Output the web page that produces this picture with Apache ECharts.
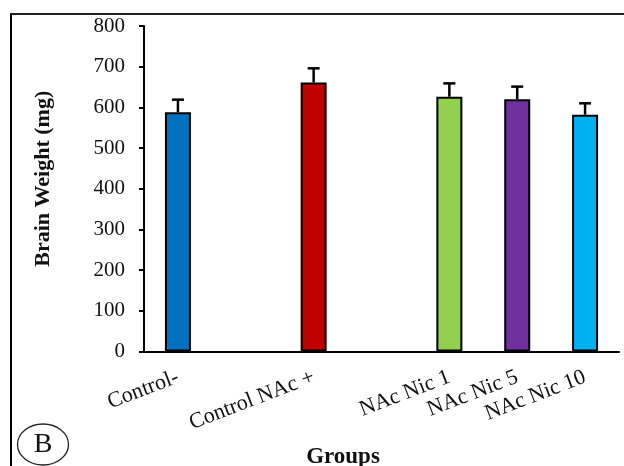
<!DOCTYPE html>
<html>
<head>
<meta charset="utf-8">
<script src="https://cdn.jsdelivr.net/npm/echarts@6/dist/echarts.min.js"></script>
<style>html,body{margin:0;padding:0;background:#fff}#c{width:624px;height:466px}</style>
</head>
<body>
<div id="c"></div>
<script>
// Data
const categories = ['Control-', '', 'Control NAc +', '', 'NAc Nic 1', 'NAc Nic 5', 'NAc Nic 10'];
const values = [588, null, 661, null, 626, 620, 582];
const errors = [31, null, 35, null, 33, 31, 28];
const barColors = ['#0070C0', null, '#C00000', null, '#92D050', '#7030A0', '#00B0F0'];
const yTicks = [0, 800, 100]; // min, max, interval

const FONT = 'Liberation Serif';
const chart = echarts.init(document.getElementById('c'), null, {renderer: 'canvas'});

const barData = values.map((v, i) => v == null ? null : ({
  value: v,
  itemStyle: {color: barColors[i]}
}));
const errData = [];
values.forEach((v, i) => { if (v != null) errData.push([i, v, errors[i]]); });

chart.setOption({
  animation: false,
  backgroundColor: '#fff',
  grid: {left: 144, right: 5, top: 26, bottom: 114.5, containLabel: false, outerBoundsMode: 'none'},
  xAxis: {
    type: 'category',
    data: categories,
    boundaryGap: true,
    axisLine: {lineStyle: {color: '#000', width: 2}},
    axisTick: {show: false},
    axisLabel: {rotate: 21, margin: 25, interval: 0, fontFamily: FONT, fontSize: 22, color: '#111'},
    name: 'Groups',
    nameLocation: 'middle',
    nameGap: 94,
    nameTextStyle: {fontFamily: FONT, fontSize: 23, fontWeight: 'bold', color: '#111', padding: [0, 77, 0, 0]}
  },
  yAxis: {
    type: 'value',
    min: yTicks[0], max: yTicks[1], interval: yTicks[2],
    splitLine: {show: false},
    axisLine: {show: true, lineStyle: {color: '#000', width: 2}},
    axisTick: {show: true, length: 5, lineStyle: {color: '#000', width: 2}},
    axisLabel: {margin: 19, fontFamily: FONT, fontSize: 21, color: '#111'},
    name: 'Brain Weight (mg)',
    nameLocation: 'middle',
    nameGap: 90,
    nameTextStyle: {fontFamily: FONT, fontSize: 22, fontWeight: 'bold', color: '#111', padding: [0, 0, 0, 20]}
  },
  series: [
    {
      type: 'bar',
      data: barData,
      barWidth: 26,
      itemStyle: {borderColor: '#000', borderWidth: 2}
    },
    {
      type: 'custom',
      data: errData,
      z: 3,
      renderItem: function (params, api) {
        const x = api.value(0);
        const base = api.coord([x, api.value(1)]);
        const top = api.coord([x, api.value(1) + api.value(2)]);
        const half = 6;
        const style = {stroke: '#000', lineWidth: 2.5};
        return {
          type: 'group',
          children: [
            {type: 'line', shape: {x1: base[0], y1: base[1], x2: top[0], y2: top[1]}, style: style},
            {type: 'line', shape: {x1: top[0] - half, y1: top[1], x2: top[0] + half, y2: top[1]}, style: style}
          ]
        };
      }
    }
  ],
  graphic: [
    {type: 'line', shape: {x1: 10, y1: 14, x2: 624, y2: 14}, style: {stroke: '#222', lineWidth: 2}, silent: true},
    {type: 'line', shape: {x1: 11, y1: 14, x2: 11, y2: 466}, style: {stroke: '#000', lineWidth: 2}, silent: true},
    {type: 'ellipse', shape: {cx: 43, cy: 444.5, rx: 25.5, ry: 20.5}, style: {stroke: '#222', lineWidth: 1.3, fill: 'none'}, silent: true},
    {type: 'text', x: 43, y: 445, style: {text: 'B', font: '28px "Liberation Serif"', fill: '#111', align: 'center', verticalAlign: 'middle'}, silent: true}
  ]
});
</script>
</body>
</html>
